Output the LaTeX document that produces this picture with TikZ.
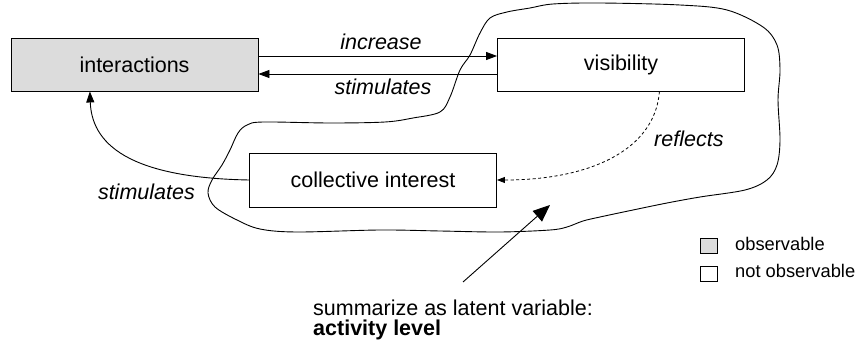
\documentclass[tikz,border=0pt]{standalone}
\usepackage{fontspec}
\setmainfont{Liberation Sans}
\usetikzlibrary{arrows.meta,calc}
\definecolor{obsgray}{HTML}{DCDCDC}
\tikzset{
  varbox/.style={draw=black, line width=0.9pt, inner sep=0pt, minimum width=247pt, minimum height=53pt, font=\fontsize{21.5}{24}\selectfont},
  edge/.style={line width=0.9pt, -{Triangle[length=11pt,width=8pt]}},
  lbl/.style={font=\fontsize{21.5}{24}\selectfont\itshape, inner sep=0pt},
  legbox/.style={draw=black, line width=0.9pt, inner sep=0pt, minimum width=17pt, minimum height=15pt},
  legtext/.style={font=\fontsize{18.3}{20}\selectfont, inner sep=0pt, anchor=base west},
}
\begin{document}
\begin{tikzpicture}[x=1pt, y=-1pt]
\useasboundingbox (0,0) rectangle (858,347);

% variables
\node[varbox, fill=obsgray] (inter) at (134.5,64.5) {interactions};
\node[varbox] (vis) at (621,64.5) {visibility};
\node[varbox, minimum height=54pt] (coll) at (373,180) {collective interest};

% region grouping the latent part
\draw[line width=0.9pt] plot[smooth cycle, tension=0.55] coordinates {
  (263,122) (330,123) (385,122) (413,118) (440,112) (450,97) (460,70)
  (470,55) (480,33) (490,18) (507,12) (530,8) (553,4) (600,3) (680,5)
  (727,10) (763,27) (777,45) (780,70) (778,100) (780,140) (777,165)
  (767,180) (745,190) (700,197) (667,203) (633,210) (600,217) (583,221)
  (567,227) (550,230) (500,232) (440,231) (380,230) (297,232) (260,229)
  (237,220) (215,207) (208,193) (212,180) (222,165) (230,150) (238,133)
  (247,125)
};

% connectors
\draw[edge] ([yshift=8.5pt]inter.east) -- ([yshift=8.5pt]vis.west);
\draw[edge] ([yshift=-9.5pt]vis.west) -- ([yshift=-9.5pt]inter.east);
\coordinate (interfoot) at ($(inter.south west)!0.32!(inter.south east)$);
\draw[edge] (coll.west) .. controls (140,178) and (92,150) .. (interfoot);
\draw[line width=0.8pt, dashed, dash pattern=on 3pt off 2.5pt, -{Triangle[length=8pt,width=6pt]}]
  ($(vis.south west)!0.655!(vis.south east)$) .. controls (655,150) and (590,180) .. (coll.east);

% labels
\node[lbl, anchor=base] (lincr) at (381,50) {increase};
\node[lbl, anchor=base] (lstim1) at (383,95) {stimulates};
\node[lbl, anchor=base east] (lstim2) at (195,200) {stimulates};
\node[lbl, anchor=base west] (lrefl) at (654,147) {reflects};

% annotation
\coordinate (notefoot) at (463,282);
\coordinate (notetip) at (550,205);
\draw[line width=0.9pt, -{Triangle[length=17pt,width=14pt]}] (notefoot) -- (notetip);
\node[inner sep=0pt, anchor=base west, font=\fontsize{21.5}{24}\selectfont] (note1) at (313,315) {summarize as latent variable:};
\node[inner sep=0pt, anchor=base west, font=\fontsize{21.5}{24}\selectfont\bfseries] (note2) at (313,335) {activity level};

% legend
\node[legbox, fill=obsgray] (leg1) at (709,245.5) {};
\node[legbox] (leg2) at (709,273.5) {};
\node[legtext] (legt1) at (735,250) {observable};
\node[legtext] (legt2) at (735,277) {not observable};
\end{tikzpicture}
\end{document}
